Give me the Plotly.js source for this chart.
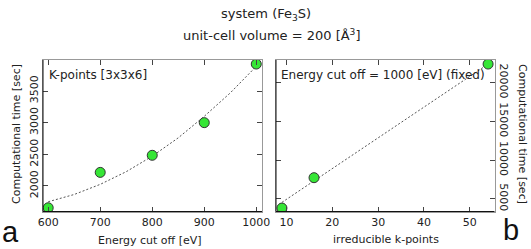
<!DOCTYPE html>
<html><head><meta charset="utf-8">
<script src="https://cdn.plot.ly/plotly-3.0.1.min.js"></script>
<style>html,body{margin:0;padding:0;background:#fff;}#c{width:531px;height:249px;}</style>
</head><body><div id="c"></div>
<script>
// Panel a: energy cut-off vs computational time
const cutoff = [600, 700, 800, 900, 1000];
const timeA = [1655, 2214, 2484, 3000, 3926];
const fitAx = [600, 650, 700, 750, 800, 850, 900, 950, 1000];
const fitAy = [1750, 1865, 2025, 2225, 2470, 2760, 3100, 3470, 3890];
// Panel b: irreducible k-points vs computational time
const kpts = [9, 16, 54];
const timeB = [3826, 7740, 22387];
const fitBx = [9, 54];
const fitBy = [4560, 22380];
const ticksA = [2000, 2500, 3000, 3500];
const ticksB = [5000, 10000, 15000, 20000];
const ticksBx = [10, 20, 30, 40, 50];

const W = 531, H = 249;
const px = v => v / W, py = v => 1 - v / H;
const FONT = 'DejaVu Sans, sans-serif';
const TXT = '#222';

const mk = {size: 10, color: '#36e636', line: {color: '#333', width: 1}};
const dl = {color: '#555', width: 1, dash: '2px,2px'};

const traces = [
  {x: fitAx, y: fitAy, mode: 'lines', line: dl, xaxis: 'x', yaxis: 'y', hoverinfo: 'skip'},
  {x: cutoff, y: timeA, mode: 'markers', marker: mk, xaxis: 'x', yaxis: 'y'},
  {x: fitBx, y: fitBy, mode: 'lines', line: dl, xaxis: 'x2', yaxis: 'y2', hoverinfo: 'skip'},
  {x: kpts, y: timeB, mode: 'markers', marker: mk, xaxis: 'x2', yaxis: 'y2'}
];

const axBase = {
  showgrid: false, zeroline: false, showline: true, linecolor: '#999', linewidth: 1,
  mirror: 'ticks', ticks: 'inside', ticklen: 5, tickcolor: '#444', tickwidth: 1,
  tickformat: 'd', separatethousands: false,
  tickfont: {family: FONT, size: 11, color: TXT}
};
const yd = [py(211.5), py(60)];

function ann(text, x, y, size, extra) {
  return Object.assign({text: text, x: px(x), y: py(y), xref: 'paper', yref: 'paper',
    xanchor: 'center', yanchor: 'middle', showarrow: false,
    font: {family: FONT, size: size, color: TXT}}, extra || {});
}

const layout = {
  width: W, height: H, margin: {l: 0, r: 0, t: 0, b: 0},
  paper_bgcolor: '#fff', plot_bgcolor: '#fff', showlegend: false,
  xaxis: Object.assign({}, axBase, {domain: [px(43), px(262)], range: [590, 1011], tickvals: cutoff, anchor: 'y'}),
  yaxis: Object.assign({}, axBase, {domain: yd, range: [1596, 3990], tickvals: ticksA, tickangle: -90, anchor: 'x'}),
  xaxis2: Object.assign({}, axBase, {domain: [px(276), px(494.5)], range: [7.7, 55.4], tickvals: ticksBx, anchor: 'y2'}),
  yaxis2: Object.assign({}, axBase, {domain: yd, range: [3383, 22909], tickvals: ticksB, tickangle: 90, side: 'right', anchor: 'x2'}),
  shapes: [
    {type: 'line', xref: 'x domain', yref: 'y domain', x0: 0, x1: 0, y0: 0, y1: 1, line: {color: '#111', width: 1}, layer: 'above'},
    {type: 'line', xref: 'x domain', yref: 'y domain', x0: 0, x1: 1, y0: 0, y1: 0, line: {color: '#111', width: 1}, layer: 'above'},
    {type: 'line', xref: 'x2 domain', yref: 'y2 domain', x0: 0, x1: 0, y0: 0, y1: 1, line: {color: '#111', width: 1}, layer: 'above'},
    {type: 'line', xref: 'x2 domain', yref: 'y2 domain', x0: 0, x1: 1, y0: 0, y1: 0, line: {color: '#111', width: 1}, layer: 'above'}
  ],
  annotations: [
    ann('system (Fe<sub>3</sub>S)', 266, 14, 13),
    ann('unit-cell volume = 200 [Å<sup>3</sup>]', 271, 35, 13),
    ann('K-points [3x3x6]', 47, 75, 12, {xanchor: 'left'}),
    ann('Energy cut off = 1000 [eV] (fixed)', 279, 75, 12, {xanchor: 'left'}),
    ann('Energy cut off [eV]', 150, 240, 11),
    ann('irreducible k-points', 386, 239, 11),
    ann('Computational time [sec]', 16, 134, 11, {textangle: -90}),
    ann('Computational time [sec]', 523, 134, 11, {textangle: 90}),
    ann('a', 10, 232, 29, {font: {family: 'Liberation Sans, sans-serif', size: 29, color: '#111'}}),
    ann('b', 511, 230, 29, {font: {family: 'Liberation Sans, sans-serif', size: 29, color: '#111'}})
  ]
};

Plotly.newPlot('c', traces, layout, {displayModeBar: false, staticPlot: true});
</script></body></html>
